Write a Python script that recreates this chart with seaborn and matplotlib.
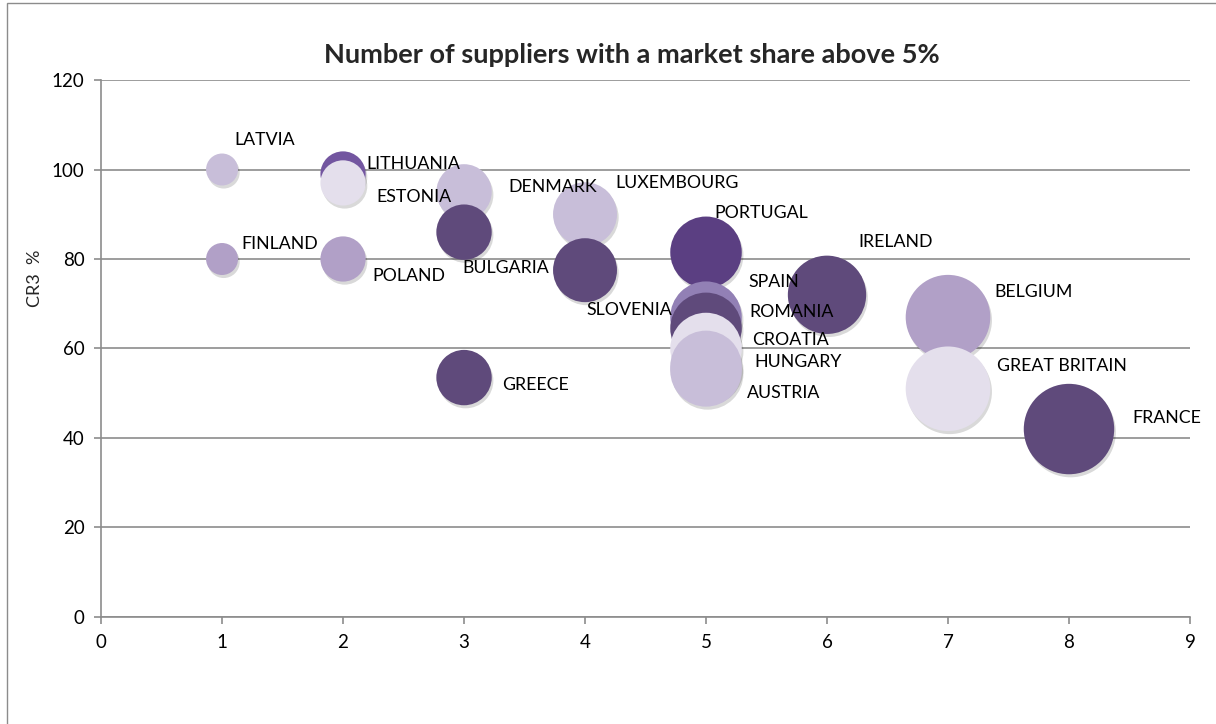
import matplotlib
matplotlib.use("Agg")
import matplotlib.pyplot as plt
import matplotlib.patheffects as pe
import seaborn as sns
import pandas as pd

# data
countries = ["LATVIA", "FINLAND", "LITHUANIA", "ESTONIA", "POLAND", "DENMARK", "BULGARIA",
             "GREECE", "LUXEMBOURG", "SLOVENIA", "PORTUGAL", "SPAIN", "ROMANIA", "AUSTRIA",
             "CROATIA", "HUNGARY", "IRELAND", "BELGIUM", "GREAT BRITAIN", "FRANCE"]
suppliers = [1, 1, 2, 2, 2, 3, 3, 3, 4, 4, 5, 5, 5, 5, 5, 5, 6, 7, 7, 8]
cr3 = [100, 80, 99, 97, 80, 95, 86, 53.5, 90, 77.5, 81.5, 67, 64.5, 55, 60, 56, 72, 67, 51, 42]
bubble_size = [1, 1, 2, 2, 2, 3, 3, 3, 4, 4, 5, 5, 5, 5, 5, 5, 6, 7, 7, 8]

x_ticks = list(range(0, 10))
y_ticks = [0, 20, 40, 60, 80, 100, 120]

# styling
colors = ["#C8BED9", "#B1A0C7", "#7356A0", "#E4DFEC", "#B1A0C7", "#C8BED9", "#5F4A7B",
          "#5F4A7B", "#C8BED9", "#5F4A7B", "#5B3F82", "#9280B5", "#5F4A7B", "#C8BED9",
          "#E4DFEC", "#C8BED9", "#5F4A7B", "#B1A0C7", "#E4DFEC", "#5F4A7B"]
# label offsets in pixels (dx, dy) from bubble centre
label_offsets = {
    "LATVIA": (12, 30), "FINLAND": (19, 15), "LITHUANIA": (23, 10), "ESTONIA": (33, -14),
    "POLAND": (29, -17), "DENMARK": (44, 5), "BULGARIA": (-2, -36), "GREECE": (38, -7),
    "LUXEMBOURG": (30, 31), "SLOVENIA": (1, -40), "PORTUGAL": (8, 39), "SPAIN": (42, 35),
    "ROMANIA": (43, 16), "AUSTRIA": (41, -22), "CROATIA": (46, 8), "HUNGARY": (48, 4),
    "IRELAND": (31, 53), "BELGIUM": (46, 25), "GREAT BRITAIN": (49, 23), "FRANCE": (63, 11),
}

df = pd.DataFrame({"country": countries, "suppliers": suppliers,
                   "cr3": cr3, "size": bubble_size})

sns.set_style("white")
plt.rcParams["font.family"] = ["Lato", "DejaVu Sans"]

fig = plt.figure(figsize=(12.16, 7.24), dpi=100)
ax = fig.add_axes([0.0831, 0.1478, 0.8955, 0.7417])

# outer chart border (left and top edges visible)
fig.patches.append(plt.Rectangle((7 / 1216, -0.1), 1.2, 1.1 - 3 / 724, transform=fig.transFigure,
                                 fill=False, edgecolor="#8C8C8C", linewidth=1.0))

ax.yaxis.grid(True, color="#8C8C8C", linewidth=1.2)
ax.set_axisbelow(True)

sns.scatterplot(data=df, x="suppliers", y="cr3", hue="country",
                palette=dict(zip(countries, colors)), size="size",
                sizes=(530, 4240), size_norm=(1, 8), legend=False,
                linewidth=0, ax=ax, zorder=3)
ax.collections[0].set_path_effects([
    pe.SimplePatchShadow(offset=(1.2, -2.2), shadow_rgbFace="black", alpha=0.15),
    pe.Normal()])

for name, xv, yv in zip(countries, suppliers, cr3):
    dx, dy = label_offsets[name]
    ax.annotate(name, (xv, yv), xytext=(dx, dy), textcoords="offset pixels",
                ha="left", va="center", fontsize=12.8, color="black", zorder=5)

ax.set_xlim(0, 9)
ax.set_ylim(0, 120)
ax.set_xticks(x_ticks)
ax.set_yticks(y_ticks)
ax.tick_params(axis="both", labelsize=13.5, length=5, width=1.2, color="#8C8C8C",
               labelcolor="black", direction="out", pad=7)
ax.tick_params(axis="both", which="both", bottom=True, left=True)
for side in ["top", "right"]:
    ax.spines[side].set_visible(False)
for side in ["left", "bottom"]:
    ax.spines[side].set_color("#8C8C8C")
    ax.spines[side].set_linewidth(1.2)

ax.set_xlabel("")
ax.set_ylabel("CR3  %", fontsize=13)
ax.yaxis.set_label_coords(-0.053, 0.63)
fig.text(632 / 1216, 1 - 55 / 724, "Number of suppliers with a market share above 5%",
         ha="center", va="center", fontsize=19.5, fontweight="bold")

fig.savefig("out.png", dpi=100)
